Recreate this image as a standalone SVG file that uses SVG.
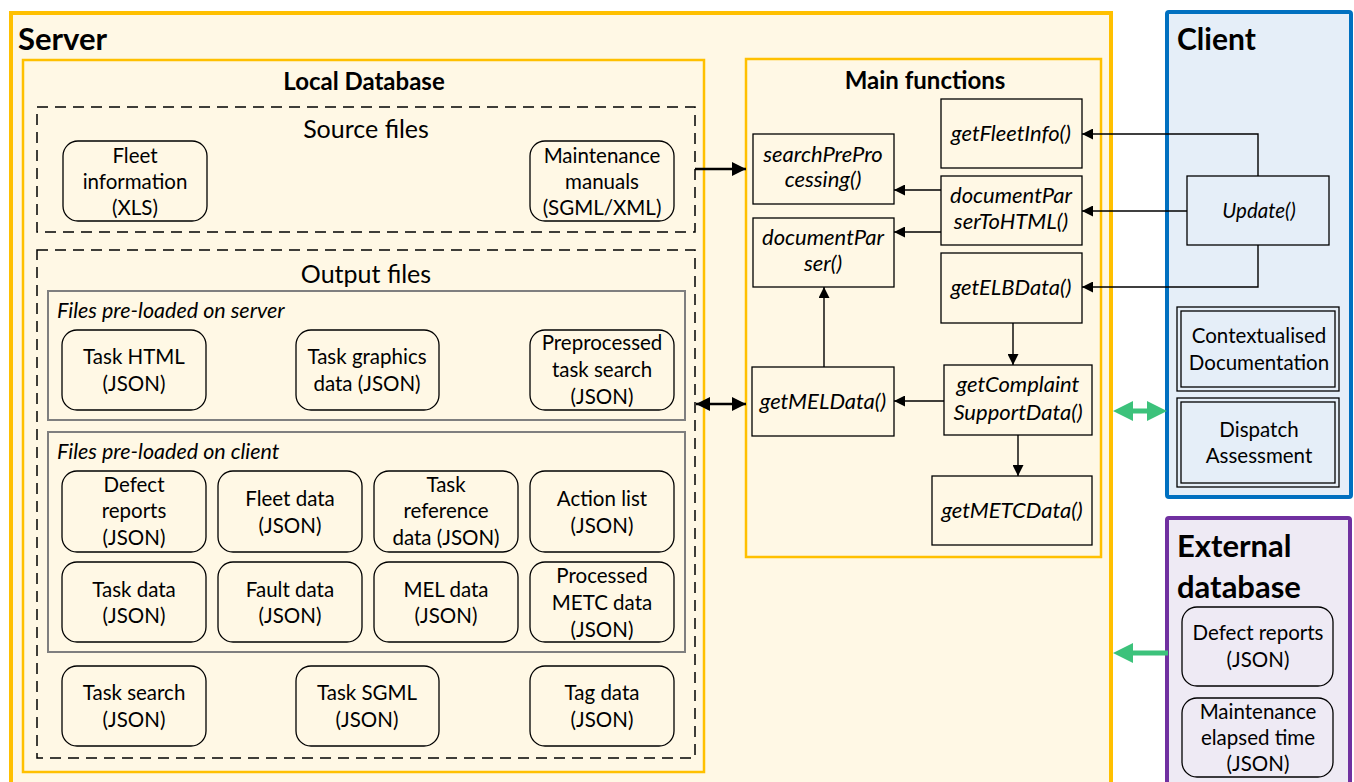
<svg xmlns="http://www.w3.org/2000/svg" width="1354" height="782" viewBox="0 0 1354 782">
<style>
.t{font-family:Lato,"Liberation Sans",sans-serif;font-size:20.5px;fill:#000;text-anchor:middle}
.big{font-size:25px}
.fi{font-family:Lato,"Liberation Sans",sans-serif;font-size:22px;font-style:italic;fill:#000;text-anchor:middle}
.hd{font-family:Lato,"Liberation Sans",sans-serif;font-weight:bold;fill:#000}
.lbl{font-family:Lato,"Liberation Sans",sans-serif;font-size:21.5px;font-style:italic;fill:#000}
.file{fill:#FFF8E5;stroke:#000;stroke-width:1.3}
.fn{fill:#FFF8E5;stroke:#000;stroke-width:1.3}
.dash{fill:none;stroke:#000;stroke-width:1.5;stroke-dasharray:11 7}
.grp{fill:none;stroke:#7F7F7F;stroke-width:2}
.c{fill:none;stroke:#000;stroke-width:1.4}
.ct{fill:none;stroke:#000;stroke-width:2.6}
.g{fill:#3CC27B}
</style>
<defs>
<marker id="ah" viewBox="0 0 10 10" refX="10" refY="5" markerWidth="11" markerHeight="11" markerUnits="userSpaceOnUse" orient="auto-start-reverse"><path d="M0,0 L10,5 L0,10 z" fill="#000"/></marker>
<marker id="ahb" viewBox="0 0 10 10" refX="10" refY="5" markerWidth="14" markerHeight="14" markerUnits="userSpaceOnUse" orient="auto-start-reverse"><path d="M0,0 L10,5 L0,10 z" fill="#000"/></marker>
</defs>

<g id="server">
<rect x="11" y="13" width="1100" height="800" fill="#FFF8E5" stroke="#FFC000" stroke-width="4"/>
<text class="hd" x="18" y="50" font-size="31">Server</text>
</g>

<g id="client">
<rect x="1167" y="12" width="184" height="485" fill="#E5EEF8" stroke="#0070C0" stroke-width="4" rx="2"/>
<text class="hd" x="1177" y="50" font-size="30">Client</text>
</g>

<g id="external-database">
<rect x="1167" y="518" width="183" height="300" fill="#EEEAF4" stroke="#7030A0" stroke-width="4" rx="2"/>
<text class="hd" x="1177" y="557" font-size="31">External</text>
<text class="hd" x="1177" y="598" font-size="31">database</text>
</g>

<g id="local-database">
<rect x="23" y="60" width="681" height="712" fill="#FFF8E5" stroke="#FFC000" stroke-width="2.5"/>
<text class="hd" x="364" y="90" font-size="24" text-anchor="middle">Local Database</text>
</g>

<g id="source-files">
<rect class="dash" x="37" y="107" width="658" height="125"/>
<text class="t big" x="366" y="138">Source files</text>
</g>
<g id="fleet-information">
<rect class="file" x="63" y="141" width="144" height="80" rx="15"/>
<text class="t" x="135" y="163">Fleet</text><text class="t" x="135" y="189">information</text><text class="t" x="135" y="215">(XLS)</text>
</g>
<g id="maintenance-manuals">
<rect class="file" x="530" y="141" width="144" height="80" rx="15"/>
<text class="t" x="602" y="163">Maintenance</text><text class="t" x="602" y="189">manuals</text><text class="t" x="602" y="215">(SGML/XML)</text>
</g>

<g id="output-files">
<rect class="dash" x="37" y="250" width="658" height="508"/>
<text class="t big" x="366" y="283">Output files</text>
</g>
<g id="files-server">
<rect class="grp" x="48" y="291" width="637" height="129"/>
<text class="lbl" x="57" y="318">Files pre-loaded on server</text>
</g>
<g id="task-html"><rect class="file" x="62" y="330" width="144" height="80" rx="15"/><text class="t" x="134" y="364">Task HTML</text><text class="t" x="134" y="391">(JSON)</text></g>
<g id="task-graphics"><rect class="file" x="296" y="330" width="143" height="80" rx="15"/><text class="t" x="367" y="364">Task graphics</text><text class="t" x="367" y="391">data (JSON)</text></g>
<g id="preprocessed-task-search"><rect class="file" x="530" y="330" width="144" height="80" rx="15"/><text class="t" x="602" y="350">Preprocessed</text><text class="t" x="602" y="377">task search</text><text class="t" x="602" y="404">(JSON)</text></g>

<g id="files-client">
<rect class="grp" x="48" y="432" width="637" height="220"/>
<text class="lbl" x="57" y="459">Files pre-loaded on client</text>
</g>
<g id="defect-reports"><rect class="file" x="62" y="471" width="144" height="81" rx="15"/><text class="t" x="134" y="492">Defect</text><text class="t" x="134" y="518">reports</text><text class="t" x="134" y="545">(JSON)</text></g>
<g id="fleet-data"><rect class="file" x="218" y="471" width="144" height="81" rx="15"/><text class="t" x="290" y="506">Fleet data</text><text class="t" x="290" y="533">(JSON)</text></g>
<g id="task-reference"><rect class="file" x="374" y="471" width="144" height="81" rx="15"/><text class="t" x="446" y="492">Task</text><text class="t" x="446" y="518">reference</text><text class="t" x="446" y="545">data (JSON)</text></g>
<g id="action-list"><rect class="file" x="530" y="471" width="144" height="81" rx="15"/><text class="t" x="602" y="506">Action list</text><text class="t" x="602" y="533">(JSON)</text></g>
<g id="task-data"><rect class="file" x="62" y="562" width="144" height="80" rx="15"/><text class="t" x="134" y="597">Task data</text><text class="t" x="134" y="623">(JSON)</text></g>
<g id="fault-data"><rect class="file" x="218" y="562" width="144" height="80" rx="15"/><text class="t" x="290" y="597">Fault data</text><text class="t" x="290" y="623">(JSON)</text></g>
<g id="mel-data"><rect class="file" x="374" y="562" width="144" height="80" rx="15"/><text class="t" x="446" y="597">MEL data</text><text class="t" x="446" y="623">(JSON)</text></g>
<g id="processed-metc"><rect class="file" x="530" y="562" width="144" height="80" rx="15"/><text class="t" x="602" y="583">Processed</text><text class="t" x="602" y="610">METC data</text><text class="t" x="602" y="637">(JSON)</text></g>

<g id="task-search"><rect class="file" x="62" y="666" width="144" height="80" rx="15"/><text class="t" x="134" y="700">Task search</text><text class="t" x="134" y="727">(JSON)</text></g>
<g id="task-sgml"><rect class="file" x="296" y="666" width="143" height="80" rx="15"/><text class="t" x="367" y="700">Task SGML</text><text class="t" x="367" y="727">(JSON)</text></g>
<g id="tag-data"><rect class="file" x="530" y="666" width="144" height="80" rx="15"/><text class="t" x="602" y="700">Tag data</text><text class="t" x="602" y="727">(JSON)</text></g>

<g id="main-functions">
<rect x="746" y="59" width="355" height="498" fill="#FFF8E5" stroke="#FFC000" stroke-width="2.5"/>
<text class="hd" x="925" y="89" font-size="24" text-anchor="middle">Main functions</text>
</g>
<g id="getFleetInfo"><rect class="fn" x="941" y="99" width="141" height="69"/><text class="fi" x="1011" y="141">getFleetInfo()</text></g>
<g id="searchPreProcessing"><rect class="fn" x="753" y="134" width="141" height="70"/><text class="fi" x="823" y="162">searchPrePro</text><text class="fi" x="823" y="187">cessing()</text></g>
<g id="documentParserToHTML"><rect class="fn" x="941" y="176" width="141" height="69"/><text class="fi" x="1011" y="203">documentPar</text><text class="fi" x="1011" y="229">serToHTML()</text></g>
<g id="documentParser"><rect class="fn" x="753" y="218" width="141" height="69"/><text class="fi" x="823" y="245">documentPar</text><text class="fi" x="823" y="271">ser()</text></g>
<g id="getELBData"><rect class="fn" x="941" y="253" width="141" height="70"/><text class="fi" x="1011" y="295">getELBData()</text></g>
<g id="getMELData"><rect class="fn" x="752" y="367" width="142" height="69"/><text class="fi" x="823" y="409">getMELData()</text></g>
<g id="getComplaintSupportData"><rect class="fn" x="944" y="365" width="148" height="70"/><text class="fi" x="1018" y="392">getComplaint</text><text class="fi" x="1018" y="420">SupportData()</text></g>
<g id="getMETCData"><rect class="fn" x="932" y="476" width="160" height="69"/><text class="fi" x="1012" y="518">getMETCData()</text></g>

<g id="update"><rect x="1187" y="176" width="142" height="69" fill="#E5EEF8" stroke="#000" stroke-width="1.3"/><text class="fi" x="1259" y="218" style="font-size:20.5px">Update()</text></g>

<g id="contextualised-documentation">
<rect x="1177" y="307" width="162" height="84" fill="#E5EEF8" stroke="#000" stroke-width="1.3"/>
<rect x="1181" y="311" width="154" height="76" fill="none" stroke="#000" stroke-width="1.3"/>
<text class="t" x="1259" y="343">Contextualised</text><text class="t" x="1259" y="370">Documentation</text>
</g>
<g id="dispatch-assessment">
<rect x="1177" y="398" width="162" height="89" fill="#E5EEF8" stroke="#000" stroke-width="1.3"/>
<rect x="1181" y="402" width="154" height="81" fill="none" stroke="#000" stroke-width="1.3"/>
<text class="t" x="1259" y="437">Dispatch</text><text class="t" x="1259" y="463">Assessment</text>
</g>

<g id="ext-defect-reports"><rect x="1182" y="607" width="151" height="79" rx="15" fill="#EEEAF4" stroke="#000" stroke-width="1.3"/><text class="t" x="1258" y="640">Defect reports</text><text class="t" x="1258" y="667">(JSON)</text></g>
<g id="ext-maintenance-elapsed"><rect x="1182" y="698" width="151" height="79" rx="15" fill="#EEEAF4" stroke="#000" stroke-width="1.3"/><text class="t" x="1258" y="719">Maintenance</text><text class="t" x="1258" y="745">elapsed time</text><text class="t" x="1258" y="771">(JSON)</text></g>

<g id="connectors">
<line class="ct" x1="695" y1="169" x2="746" y2="169" marker-end="url(#ahb)"/>
<line class="ct" x1="696" y1="404" x2="746" y2="404" marker-start="url(#ahb)" marker-end="url(#ahb)"/>
<line class="c" x1="941" y1="190" x2="894" y2="190" marker-end="url(#ah)"/>
<line class="c" x1="941" y1="232" x2="894" y2="232" marker-end="url(#ah)"/>
<line class="c" x1="824" y1="367" x2="824" y2="287" marker-end="url(#ah)"/>
<line class="c" x1="1013" y1="323" x2="1013" y2="365" marker-end="url(#ah)"/>
<line class="c" x1="944" y1="401" x2="894" y2="401" marker-end="url(#ah)"/>
<line class="c" x1="1018" y1="435" x2="1018" y2="476" marker-end="url(#ah)"/>
<polyline class="c" points="1258,176 1258,134 1082,134" marker-end="url(#ah)"/>
<line class="c" x1="1187" y1="211" x2="1082" y2="211" marker-end="url(#ah)"/>
<polyline class="c" points="1258,245 1258,287 1082,287" marker-end="url(#ah)"/>
<path class="g" d="M1113,411 L1133,401 L1133,408.5 L1147,408.5 L1147,401 L1167,411 L1147,421 L1147,413.5 L1133,413.5 L1133,421 Z"/>
<path class="g" d="M1113,653 L1133,643 L1133,650.5 L1168,650.5 L1168,655.5 L1133,655.5 L1133,663 Z"/>
</g>
</svg>
